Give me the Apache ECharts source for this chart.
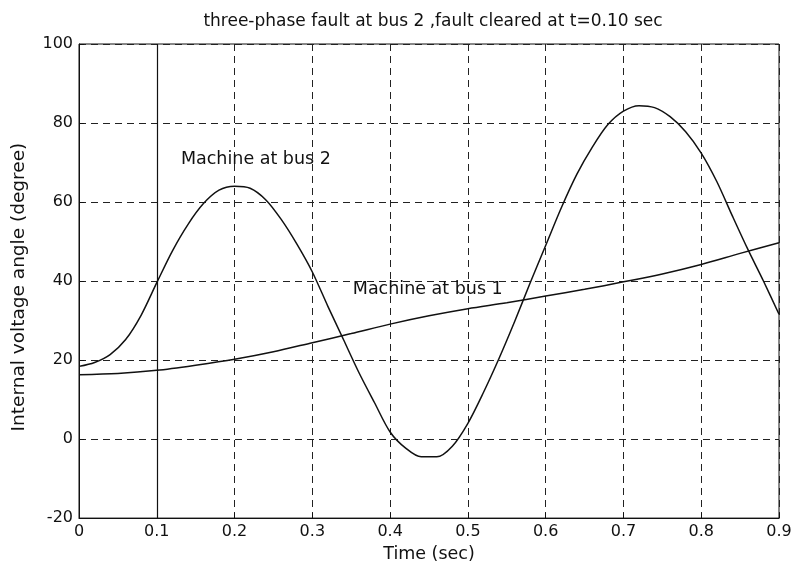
<!DOCTYPE html>
<html>
<head>
<meta charset="utf-8">
<script src="https://cdn.jsdelivr.net/npm/echarts@6/dist/echarts.min.js"></script>
<style>html,body{margin:0;padding:0;background:#fff;}#c{width:797px;height:568px;}</style>
</head>
<body>
<div id="c"></div>
<script>
// Data
const timeBus2 = [0,0.02,0.04,0.06,0.08,0.10,0.12,0.14,0.16,0.18,0.20,0.22,0.24,0.26,0.28,0.30,0.32,0.34,0.36,0.38,0.40,0.42,0.44,0.46,0.48,0.50,0.52,0.54,0.56,0.58,0.60,0.62,0.64,0.66,0.68,0.70,0.72,0.74,0.76,0.78,0.80,0.82,0.84,0.86,0.88,0.90];
const angleBus2 = [18.4,19.4,21.4,25.2,31.4,39.6,47.6,54.3,59.6,63.0,64.0,63.5,60.6,55.6,49.4,42.3,33.6,25.2,16.8,9.2,1.8,-2.3,-4.5,-4.5,-1.8,4.0,11.8,20.4,29.7,39.5,49.0,58.5,67.0,73.9,79.6,83.0,84.4,83.9,81.6,77.8,72.4,65.2,56.5,48.0,40.0,31.6];
const timeBus1 = [0,0.05,0.10,0.15,0.20,0.25,0.30,0.35,0.40,0.45,0.50,0.55,0.60,0.65,0.70,0.75,0.80,0.85,0.90];
const angleBus1 = [16.3,16.6,17.4,18.7,20.2,22.1,24.4,26.7,29.1,31.2,33.0,34.5,36.2,37.9,39.8,41.8,44.2,47.0,49.7];
const xTickLabels = ['0','0.1','0.2','0.3','0.4','0.5','0.6','0.7','0.8','0.9'];
const yTickLabels = ['-20','0','20','40','60','80','100'];
const faultClearTime = 0.10;
const labelBus2 = {text: 'Machine at bus 2', coord: [0.131, 70.7]};
const labelBus1 = {text: 'Machine at bus 1', coord: [0.352, 37.9]};

const pairs = (xs, ys) => xs.map((x, i) => [x, ys[i]]);
const FONT = 'DejaVu Sans';

const chart = echarts.init(document.getElementById('c'), null, {renderer: 'canvas'});
chart.setOption({
  animation: false,
  backgroundColor: '#fff',
  title: {
    text: 'three-phase fault at bus 2 ,fault cleared at t=0.10 sec',
    left: 428, top: 8, textAlign: 'center',
    textStyle: {fontFamily: FONT, fontSize: 17, fontWeight: 'normal', color: '#111'}
  },
  grid: {left: 79, right: 18, top: 44, bottom: 49, show: true, borderColor: '#111', borderWidth: 1, backgroundColor: 'transparent'},
  xAxis: {
    type: 'value', min: 0, max: 0.9, interval: 0.1,
    name: 'Time (sec)', nameLocation: 'middle', nameGap: 26,
    nameTextStyle: {fontFamily: FONT, fontSize: 17.5, color: '#111'},
    axisLine: {show: true, onZero: false, lineStyle: {color: '#111', width: 1}},
    axisTick: {show: true, inside: true, length: 5, lineStyle: {color: '#111'}},
    axisLabel: {margin: 6, fontFamily: FONT, fontSize: 16, color: '#111',
      formatter: v => xTickLabels[Math.round(v * 10)]},
    splitLine: {show: true, lineStyle: {color: '#222', type: [7, 5], width: 1}}
  },
  yAxis: {
    type: 'value', min: -20, max: 100, interval: 20,
    name: 'Internal voltage angle (degree)', nameLocation: 'middle', nameGap: 50,
    nameTextStyle: {fontFamily: FONT, fontSize: 18.5, color: '#111', padding: [0, 12, 0, 0]},
    axisLine: {show: true, onZero: false, lineStyle: {color: '#111', width: 1}},
    axisTick: {show: true, inside: true, length: 5, lineStyle: {color: '#111'}},
    axisLabel: {margin: 6, fontFamily: FONT, fontSize: 16, color: '#111',
      formatter: v => yTickLabels[Math.round((v + 20) / 20)]},
    splitLine: {show: true, lineStyle: {color: '#222', type: [7, 5], width: 1}}
  },
  series: [
    {
      name: 'Machine at bus 2', type: 'line', data: pairs(timeBus2, angleBus2),
      showSymbol: false, smooth: 0.3, lineStyle: {color: '#111', width: 1.5},
      markLine: {
        silent: true, symbol: ['none', 'none'], label: {show: false},
        lineStyle: {color: '#111', type: 'solid', width: 1.2},
        data: [{xAxis: faultClearTime}]
      },
      markPoint: {
        symbol: 'circle', symbolSize: 0,
        label: {show: true, position: 'right', distance: 0, fontFamily: FONT, fontSize: 17.5, color: '#111', formatter: p => p.name},
        data: [{name: labelBus2.text, coord: labelBus2.coord}]
      }
    },
    {
      name: 'Machine at bus 1', type: 'line', data: pairs(timeBus1, angleBus1),
      showSymbol: false, smooth: 0.3, lineStyle: {color: '#111', width: 1.5},
      markPoint: {
        symbol: 'circle', symbolSize: 0,
        label: {show: true, position: 'right', distance: 0, fontFamily: FONT, fontSize: 17.5, color: '#111', formatter: p => p.name},
        data: [{name: labelBus1.text, coord: labelBus1.coord}]
      }
    }
  ]
});
</script>
</body>
</html>
